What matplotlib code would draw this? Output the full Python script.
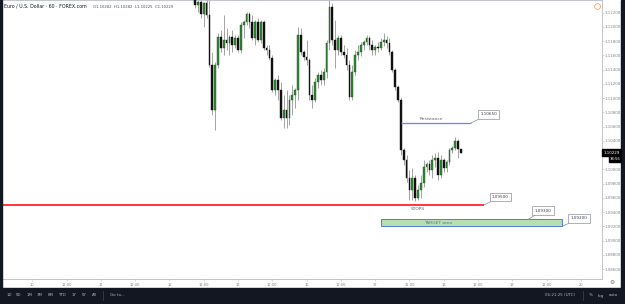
import numpy as np
import matplotlib
matplotlib.use("Agg")
import matplotlib.pyplot as plt
from matplotlib.patches import Rectangle
from matplotlib.lines import Line2D

W, H, DPI = 625, 304, 100

# ---------------- data ----------------
first_bar = 57  # hourly bar index counted from day "10" 00:00
opens = [1.12378, 1.12308, 1.12350, 1.12181, 1.12336, 1.12167, 1.11465, 1.10834, 1.11465, 1.11859,
         1.11704, 1.11816, 1.11774, 1.11859, 1.11746, 1.11844, 1.11676, 1.12027, 1.12069, 1.12181,
         1.12069, 1.11844, 1.12069, 1.11816, 1.12069, 1.11704, 1.11676, 1.11564, 1.11114, 1.11255,
         1.11114, 1.10721, 1.10834, 1.10721, 1.10974, 1.11044, 1.11114, 1.11887, 1.11648, 1.11578,
         1.11536, 1.11044, 1.10974, 1.11227, 1.11325, 1.11255, 1.11367, 1.11774, 1.12280, 1.11816,
         1.11676, 1.11844, 1.11648, 1.11606, 1.11465, 1.11016, 1.11367, 1.11606, 1.11648, 1.11746,
         1.11788, 1.11844, 1.11746, 1.11676, 1.11718, 1.11704, 1.11788, 1.11816, 1.11774, 1.11648,
         1.11395, 1.11157, 1.10974, 1.10272, 1.10132, 1.09879, 1.09710, 1.09879, 1.09598, 1.09710,
         1.09809, 1.10033, 1.10075, 1.09991, 1.10132, 1.10160, 1.09921, 1.10132, 1.10019, 1.10104,
         1.10272, 1.10300, 1.10398, 1.10282]
highs = [1.12448, 1.12378, 1.12420, 1.12350, 1.12420, 1.12378, 1.11648, 1.11508, 1.11915, 1.11957,
         1.12167, 1.11985, 1.11887, 1.11957, 1.11887, 1.11887, 1.12069, 1.12097, 1.12210, 1.12210,
         1.12167, 1.12097, 1.12125, 1.12097, 1.12097, 1.11746, 1.11746, 1.11606, 1.11283, 1.11325,
         1.11227, 1.11044, 1.11114, 1.11044, 1.11185, 1.11143, 1.11999, 1.11985, 1.11676, 1.11816,
         1.11564, 1.11185, 1.11283, 1.11367, 1.11395, 1.11423, 1.11816, 1.12406, 1.12336, 1.12097,
         1.11887, 1.11887, 1.11746, 1.11704, 1.11536, 1.11465, 1.11676, 1.11746, 1.11788, 1.11816,
         1.11887, 1.11873, 1.11816, 1.11746, 1.11788, 1.11844, 1.11915, 1.11873, 1.11844, 1.11676,
         1.11423, 1.11185, 1.11016, 1.10300, 1.10202, 1.09991, 1.10019, 1.09921, 1.09781, 1.09921,
         1.10132, 1.10104, 1.10132, 1.10202, 1.10230, 1.10244, 1.10202, 1.10160, 1.10132, 1.10300,
         1.10328, 1.10455, 1.10426, 1.10282]
lows = [1.12266, 1.12210, 1.12125, 1.11999, 1.12125, 1.11437, 1.10763, 1.10553, 1.11423, 1.11648,
        1.11606, 1.11676, 1.11606, 1.11648, 1.11704, 1.11648, 1.11634, 1.11844, 1.12027, 1.11985,
        1.11816, 1.11746, 1.11788, 1.11774, 1.11676, 1.11606, 1.11536, 1.11086, 1.11044, 1.10974,
        1.10693, 1.10581, 1.10581, 1.10623, 1.10763, 1.10862, 1.10974, 1.11606, 1.11536, 1.11465,
        1.10974, 1.10862, 1.10946, 1.11143, 1.11185, 1.11185, 1.11283, 1.11676, 1.11746, 1.11423,
        1.11606, 1.11606, 1.11564, 1.11395, 1.10974, 1.10974, 1.11325, 1.11536, 1.11592, 1.11676,
        1.11746, 1.11676, 1.11606, 1.11606, 1.11648, 1.11676, 1.11732, 1.11704, 1.11606, 1.11367,
        1.11114, 1.10946, 1.10202, 1.10061, 1.09823, 1.09570, 1.09570, 1.09556, 1.09570, 1.09598,
        1.09752, 1.09963, 1.09921, 1.09879, 1.10033, 1.09851, 1.09879, 1.09963, 1.09963, 1.10061,
        1.10230, 1.10272, 1.10160, 1.10225]
closes = [1.12308, 1.12350, 1.12181, 1.12336, 1.12167, 1.11465, 1.10834, 1.11465, 1.11859, 1.11704,
          1.11816, 1.11774, 1.11859, 1.11746, 1.11844, 1.11676, 1.12027, 1.12069, 1.12181, 1.12069,
          1.11844, 1.12069, 1.11816, 1.12069, 1.11704, 1.11676, 1.11564, 1.11114, 1.11255, 1.11114,
          1.10721, 1.10834, 1.10721, 1.10974, 1.11044, 1.11114, 1.11887, 1.11648, 1.11578, 1.11536,
          1.11044, 1.10974, 1.11227, 1.11325, 1.11255, 1.11367, 1.11774, 1.12280, 1.11816, 1.11676,
          1.11844, 1.11648, 1.11606, 1.11465, 1.11016, 1.11367, 1.11606, 1.11648, 1.11746, 1.11788,
          1.11844, 1.11746, 1.11676, 1.11718, 1.11704, 1.11788, 1.11816, 1.11774, 1.11648, 1.11395,
          1.11157, 1.10974, 1.10272, 1.10132, 1.09879, 1.09710, 1.09879, 1.09598, 1.09710, 1.09809,
          1.10033, 1.10075, 1.09991, 1.10132, 1.10160, 1.09921, 1.10132, 1.10019, 1.10104, 1.10272,
          1.10300, 1.10398, 1.10282, 1.10229]

time_tick_bars = list(range(0, 193, 12))
time_labels = ['10', '12:00', '11', '12:00', '12', '12:00', '13', '12:00', '16', '12:00',
               '17', '12:00', '18', '12:00', '19', '12:00', '20']
price_ticks = [1.122, 1.120, 1.118, 1.116, 1.114, 1.112, 1.110, 1.108, 1.106, 1.104,
               1.100, 1.098, 1.096, 1.094, 1.092, 1.090, 1.088, 1.086]

stops_level = 1.09500
resistance_level = 1.10650
target_top = 1.09300
target_bottom = 1.09200
last_price = closes[-1]

# ---------------- figure ----------------
fig = plt.figure(figsize=(W / DPI, H / DPI), dpi=DPI, facecolor='white')
plt.rcParams['font.family'] = ['DejaVu Sans']

def fx(x):
    return x / W

def fy(y):
    return 1 - y / H

ax_right_px = 601.7
ax_bottom_px = 279.3
ax = fig.add_axes([0, fy(ax_bottom_px), fx(ax_right_px), ax_bottom_px / H])
ax.set_facecolor('white')

# x: bar index ; px = 32.3 + 2.857 * bar
px_per_bar = 2.857
x0_px = 32.3
ax.set_xlim(-x0_px / px_per_bar, (ax_right_px - x0_px) / px_per_bar)
ax.set_ylim(1.08457, 1.12378)

bars = np.arange(first_bar, first_bar + len(closes))
o = np.array(opens); h = np.array(highs); l = np.array(lows); c = np.array(closes)
up = c >= o
up_col = '#2f8a35'
down_col = '#111111'
wick_col = '#8a8a8a'

ax.vlines(bars, l, h, color=wick_col, lw=0.55, zorder=2)
body_bottom = np.minimum(o, c)
body_h = np.maximum(np.abs(c - o), 0.00004)
ax.bar(bars[up], body_h[up], bottom=body_bottom[up], width=0.6, color=up_col,
       edgecolor='#1d4d20', linewidth=0.3, zorder=3)
ax.bar(bars[~up], body_h[~up], bottom=body_bottom[~up], width=0.6, color=down_col,
       edgecolor=down_col, linewidth=0.3, zorder=3)

# spines / ticks
ax.spines['left'].set_visible(False)
for s in ['top', 'bottom', 'right']:
    ax.spines[s].set_color('#b8bbc3')
    ax.spines[s].set_linewidth(0.6)
ax.set_xticks(time_tick_bars)
ax.set_xticklabels(time_labels)
ax.tick_params(axis='x', length=1.2, width=0.4, colors='#b8bbc3', labelsize=2.6,
               labelcolor='#80848e', pad=1.6)
ax.yaxis.tick_right()
ax.set_yticks(price_ticks)
ax.set_yticklabels([f'{v:.5f}' for v in price_ticks])
ax.tick_params(axis='y', length=1.2, width=0.4, colors='#b8bbc3', labelsize=2.9,
               labelcolor='#80848e', pad=1.2)

# ---------------- drawings ----------------
stops_end = (483.7 - x0_px) / px_per_bar
res_start = (400.7 - x0_px) / px_per_bar
res_end = (470.7 - x0_px) / px_per_bar
tgt_start = (380.7 - x0_px) / px_per_bar
tgt_end = (562.3 - x0_px) / px_per_bar
tgt_label_x = (528.3 - x0_px) / px_per_bar

ax.hlines(stops_level, ax.get_xlim()[0], stops_end, color='#ff0000', lw=1.1, zorder=4)
ax.hlines(resistance_level, res_start, res_end, color='#7f7ff5', lw=0.95, zorder=4)
ax.add_patch(Rectangle((tgt_start, target_bottom), tgt_end - tgt_start, target_top - target_bottom,
                       facecolor='#b5dfb1', edgecolor='#4f7fd6', lw=0.7, zorder=4))

ax.annotate('Resistance', xy=((431 - x0_px) / px_per_bar, resistance_level), xytext=(0, 2.5),
            textcoords='offset pixels', ha='center', va='bottom', fontsize=3.2, color='#5d6270')
ax.annotate('STOPS', xy=((418 - x0_px) / px_per_bar, stops_level), xytext=(0, -2),
            textcoords='offset pixels', ha='center', va='top', fontsize=3.2, color='#5d6270')
ax.text((438 - x0_px) / px_per_bar, (target_top + target_bottom) / 2, 'TARGET area',
        ha='center', va='center', fontsize=3.2, color='#6b7390', zorder=5)

def callout(txt, xb, yv, dx, dy):
    ax.annotate(txt, xy=(xb, yv), xytext=(dx, dy), textcoords='offset pixels',
                ha='center', va='center', fontsize=3.0, color='#3a3e4a', zorder=6,
                bbox=dict(boxstyle='square,pad=0.55', fc='white', ec='#8d919b', lw=0.5),
                arrowprops=dict(arrowstyle='-', color='#8d919b', lw=0.5, shrinkA=0, shrinkB=0))

callout(f'{stops_level:.5f}', stops_end, stops_level, 16.8, 7.8)
callout(f'{resistance_level:.5f}', res_end, resistance_level, 17.8, 8.7)
callout(f'{target_top:.5f}', tgt_label_x, target_top, 14.7, 8.7)
callout(f'{target_bottom:.5f}', tgt_end, target_bottom, 16.7, 8.0)

# ---------------- chrome ----------------
dark = '#131722'
fig.patches.append(Rectangle((0, 0), 1, 16 / H, transform=fig.transFigure, color=dark, zorder=10))
fig.patches.append(Rectangle((0, 0), fx(2), 1, transform=fig.transFigure, color=dark, zorder=10))
fig.patches.append(Rectangle((fx(621), 0), fx(4), 1, transform=fig.transFigure, color=dark, zorder=10))

# current price tag
fig.patches.append(Rectangle((fx(601.7), fy(156)), fx(19.3), 6.5 / H, transform=fig.transFigure,
                             color='#000000', zorder=11))
fig.text(fx(603.5), fy(152.8), f'{last_price:.5f}', fontsize=2.9, color='white', va='center',
         ha='left', zorder=12)
fig.patches.append(Rectangle((fx(609), fy(161.5)), fx(12), 5.5 / H, transform=fig.transFigure,
                             color='#000000', zorder=11))
fig.text(fx(615), fy(158.8), '38:56', fontsize=2.7, color='white', va='center', ha='center', zorder=12)

# header
fig.text(fx(3.5), fy(6.5), 'Euro / U.S. Dollar · 60 · FOREX.com', fontsize=3.4, color='#131722',
         va='center', ha='left')
fig.text(fx(93), fy(6.5), f'O{opens[-1]:.5f}  H{highs[-1]:.5f}  L{lows[-1]:.5f}  C{closes[-1]:.5f}',
         fontsize=2.7, color='#4a4e5a', va='center', ha='left')
fig.add_artist(Line2D([fx(597)], [fy(6)], marker='o', markersize=4.2, mfc='none', mec='#f5a05a',
                      mew=0.6, transform=fig.transFigure))

# gear icon
fig.text(fx(611.7), fy(283), '\u2699', fontsize=4.2, color='#6a6e78', ha='center', va='center')

# bottom toolbar
tb_col = '#b2b5be'
for lab, xp in zip(['1D', '5D', '1M', '3M', '6M', 'YTD', '1Y', '5Y', 'All'],
                   [9, 19, 29.7, 40, 50.7, 62.3, 74, 84.3, 94.7]):
    fig.text(fx(xp), fy(295.5), lab, fontsize=2.9, color=tb_col, ha='center', va='center', zorder=12)
fig.add_artist(Line2D([fx(103.3), fx(103.3)], [fy(291), fy(300)], color='#434651', lw=0.5,
                      transform=fig.transFigure, zorder=12))
fig.text(fx(110), fy(295.5), 'Go to...', fontsize=2.9, color=tb_col, ha='left', va='center', zorder=12)
fig.text(fx(560), fy(295.5), '06:21:25 (UTC)', fontsize=2.9, color=tb_col, ha='center', va='center', zorder=12)
fig.add_artist(Line2D([fx(582.7), fx(582.7)], [fy(291), fy(300)], color='#434651', lw=0.5,
                      transform=fig.transFigure, zorder=12))
for lab, xp in zip(['%', 'log', 'auto'], [590.7, 600.7, 613.3]):
    fig.text(fx(xp), fy(295.5), lab, fontsize=2.9, color=tb_col, ha='center', va='center', zorder=12)

fig.savefig('out.png', dpi=DPI, facecolor='white')
